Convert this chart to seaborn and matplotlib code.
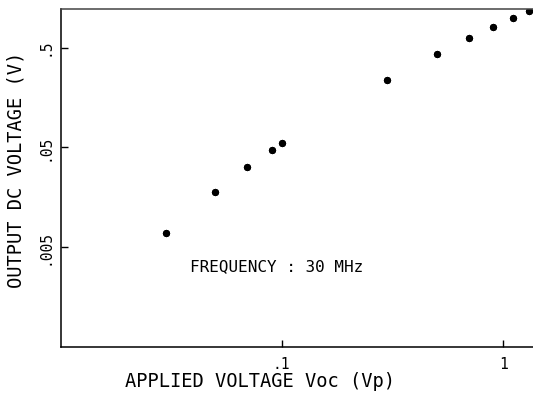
import numpy as np
import pandas as pd
import seaborn as sns
import matplotlib as mpl
from matplotlib import pyplot as plt

# applied voltage Voc (Vp) vs output dc voltage (V)
applied_v = [0.03, 0.05, 0.07, 0.09, 0.1, 0.3, 0.5, 0.7, 0.9, 1.1, 1.3]
output_v = [0.0069, 0.018, 0.0317, 0.0472, 0.0558, 0.237, 0.432, 0.62, 0.81, 1.0, 1.17]

x_ticks = [0.1, 1]
x_ticklabels = ['.1', '1']
y_ticks = [0.005, 0.05, 0.5]
y_ticklabels = ['.005', '.05', '.5']

sns.set_style('ticks')
plt.rcParams['font.family'] = ['DejaVu Sans Mono', 'DejaVu Sans']
plt.rcParams['text.color'] = 'black'
plt.rcParams['axes.labelcolor'] = 'black'

df = pd.DataFrame({'voc': applied_v, 'vdc': output_v})

fig = plt.figure(figsize=(5.33, 3.98), dpi=100)
ax = fig.add_axes([0.1144, 0.1281, 0.8856, 0.8485])

sns.scatterplot(data=df, x='voc', y='vdc', ax=ax, marker=(8, 2, 0),
                s=14, color='black', edgecolor='black', linewidth=1.6)

ax.set_xscale('log')
ax.set_yscale('log')
ax.set_xlim(0.0101, 1.36)
ax.set_ylim(0.0005, 1.21)

ax.xaxis.set_major_locator(mpl.ticker.FixedLocator(x_ticks))
ax.xaxis.set_minor_locator(mpl.ticker.NullLocator())
ax.set_xticklabels(x_ticklabels)
ax.yaxis.set_major_locator(mpl.ticker.FixedLocator(y_ticks))
ax.yaxis.set_minor_locator(mpl.ticker.NullLocator())
ax.set_yticklabels(y_ticklabels)

ax.tick_params(axis='both', direction='in', length=5, width=1,
               colors='black', labelcolor='black', labelsize=10.5)
ax.tick_params(axis='x', pad=7)
ax.tick_params(axis='y', pad=6)
plt.setp(ax.get_yticklabels(), rotation=90, va='center')

for side in ['left', 'bottom', 'top']:
    ax.spines[side].set_linewidth(1.1)
    ax.spines[side].set_color('black')
ax.spines['top'].set_color('#444444')
ax.spines['right'].set_visible(False)

ax.set_xlabel('APPLIED VOLTAGE Voc (Vp)', fontsize=13.5, color='black')
ax.set_ylabel('OUTPUT DC VOLTAGE (V)', fontsize=13.5, color='black')
ax.xaxis.set_label_coords((260 - 61) / 472, (347 - 372) / 337.7)
ax.yaxis.set_label_coords((26 - 61) / 472, (347 - 170) / 337.7)

ax.text(0.273, 0.237, 'FREQUENCY : 30 MHz', transform=ax.transAxes,
        fontsize=11.5, ha='left', va='center', color='black')

fig.savefig('out.png', dpi=100)
